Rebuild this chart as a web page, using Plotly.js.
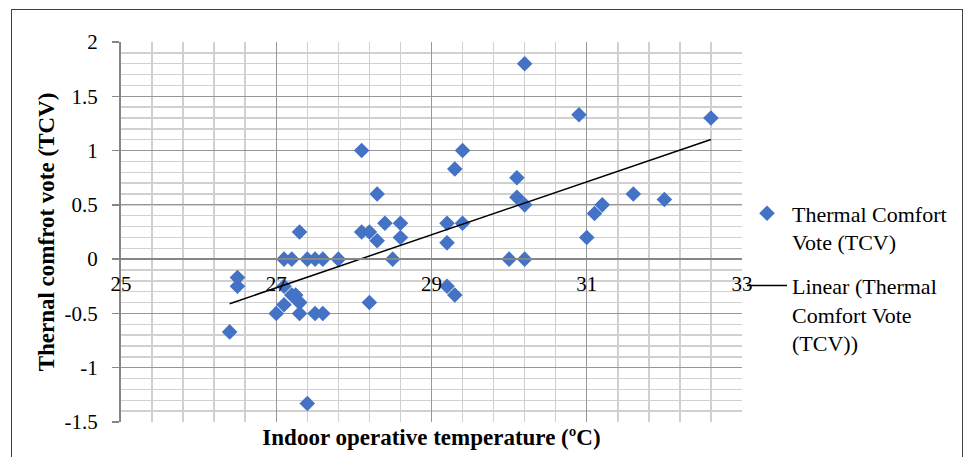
<!DOCTYPE html>
<html>
<head>
<meta charset="utf-8">
<script src="https://cdn.plot.ly/plotly-3.0.1.min.js"></script>
<style>
  html, body { margin: 0; padding: 0; background: #fff; }
  #wrap { position: relative; width: 964px; height: 457px; overflow: hidden; }
  #chart { position: absolute; left: 0; top: 0; width: 964px; height: 457px; }
  #frame { position: absolute; left: 11px; top: 9px; width: 950px; height: 470px;
           border: 1.5px solid #404040; pointer-events: none; }
</style>
</head>
<body>
<div id="wrap">
  <div id="chart"></div>
  <div id="frame"></div>
</div>
<script>
// Indoor operative temperature (ºC)
const temperature = [
  26.4, 26.5, 26.5,
  27.0, 27.1, 27.1, 27.1, 27.2, 27.2, 27.25, 27.3, 27.3, 27.3, 27.3,
  27.4, 27.4, 27.5, 27.5, 27.6, 27.6, 27.8,
  28.1, 28.1, 28.2, 28.2, 28.3, 28.3, 28.4, 28.5, 28.6, 28.6,
  29.2, 29.2, 29.2, 29.3, 29.3, 29.4, 29.4,
  30.0, 30.2, 30.1, 30.1, 30.2, 30.2,
  30.9, 31.0, 31.1, 31.2, 31.6, 32.0, 32.6
];
// Thermal Comfort Vote (TCV)
const tcv = [
  -0.67, -0.17, -0.25,
  -0.5, -0.42, 0, -0.25, -0.33, 0, -0.33, -0.4, -0.4, -0.5, 0.25,
  0, -1.33, 0, -0.5, 0, -0.5, 0,
  1.0, 0.25, 0.25, -0.4, 0.6, 0.17, 0.33, 0, 0.33, 0.2,
  0.33, 0.15, -0.25, -0.33, 0.83, 1.0, 0.33,
  0, 0, 0.75, 0.57, 0.5, 1.8,
  1.33, 0.2, 0.42, 0.5, 0.6, 0.55, 1.3
];
const xTickLabels = ['25', '27', '29', '31', '33'];
const xTickValues = [25, 27, 29, 31, 33];
const yTickLabels = ['-1.5', '-1', '-0.5', '0', '0.5', '1', '1.5', '2'];
const yTickValues = [-1.5, -1, -0.5, 0, 0.5, 1, 1.5, 2];
const seriesName = 'Thermal Comfort<br>Vote (TCV)';
const trendName = 'Linear (Thermal<br>Comfort Vote<br>(TCV))';

// Least-squares linear trendline (as Excel's "Linear" trendline)
function linearFit(xs, ys) {
  const n = xs.length;
  let sx = 0, sy = 0, sxx = 0, sxy = 0;
  for (let i = 0; i < n; i++) { sx += xs[i]; sy += ys[i]; sxx += xs[i]*xs[i]; sxy += xs[i]*ys[i]; }
  const b = (n*sxy - sx*sy) / (n*sxx - sx*sx);
  const a = (sy - b*sx) / n;
  return { a, b };
}
const fit = linearFit(temperature, tcv);
const xMin = Math.min(...temperature), xMax = Math.max(...temperature);
const trendX = [xMin, xMax];
const trendY = trendX.map(v => fit.a + fit.b * v);

const FONT = 'Liberation Serif, Times New Roman, serif';
const yRange = [-1.5, 2];

const data = [
  {
    type: 'scatter', mode: 'markers', name: seriesName,
    x: temperature, y: tcv, xaxis: 'x', yaxis: 'y',
    marker: { symbol: 'diamond', size: 12, color: '#4472C4', line: { width: 0 } },
    legendgroup: 'a'
  },
  {
    type: 'scatter', mode: 'lines', name: trendName,
    x: trendX, y: trendY, xaxis: 'x2', yaxis: 'y',
    line: { color: '#000000', width: 1.5 },
    legendgroup: 'b'
  }
];

const layout = {
  width: 964, height: 457,
  margin: { l: 121, r: 220, t: 42, b: 35 },
  paper_bgcolor: 'rgba(0,0,0,0)', plot_bgcolor: '#ffffff',
  font: { family: FONT, size: 21, color: '#000' },
  showlegend: true,
  legend: {
    x: 1.0, xanchor: 'left', y: 0.604, yanchor: 'top',
    font: { family: FONT, size: 22, color: '#000' },
    bgcolor: 'rgba(0,0,0,0)', itemwidth: 40, valign: 'top',
    tracegroupgap: 12, traceorder: 'grouped'
  },
  xaxis: {
    range: [25, 33], domain: [0, 1], anchor: 'y',
    dtick: 2, tick0: 25, showticklabels: false, ticks: '',
    showgrid: true, gridcolor: '#979797', gridwidth: 1.2,
    minor: { dtick: 0.4, tick0: 25, showgrid: true, gridcolor: '#d0d0d0', gridwidth: 1.5, ticks: '' },
    zeroline: false, showline: false,
    title: { text: '<b>Indoor operative temperature (ºC)</b>', font: { family: FONT, size: 23, color: '#000' }, standoff: 6 }
  },
  xaxis2: {
    range: [25, 33], overlaying: 'x', anchor: 'free',
    position: (0 - yRange[0]) / (yRange[1] - yRange[0]),
    tickmode: 'array', tickvals: xTickValues, ticktext: xTickLabels,
    ticks: '', showgrid: false, zeroline: false,
    showline: true, linecolor: '#868686', linewidth: 2,
    tickfont: { family: FONT, size: 21, color: '#000' },
    ticklabelstandoff: 6
  },
  yaxis: {
    range: yRange, tickmode: 'array', tickvals: yTickValues, ticktext: yTickLabels,
    ticks: 'outside', ticklen: 7, tickcolor: '#868686', tickwidth: 1.5,
    showline: true, linecolor: '#868686', linewidth: 2,
    showgrid: true, gridcolor: '#979797', gridwidth: 1.2,
    minor: { dtick: 0.1, tick0: -1.5, showgrid: true, gridcolor: '#d0d0d0', gridwidth: 1.5, ticks: '' },
    zeroline: false,
    tickfont: { family: FONT, size: 21, color: '#000' },
    ticklabelstandoff: 10,
    title: { text: '<b>Thernal comfrot vote (TCV)</b>', font: { family: FONT, size: 23, color: '#000' }, standoff: 3 }
  }
};

Plotly.newPlot('chart', data, layout, { displayModeBar: false, staticPlot: true });
</script>
</body>
</html>
